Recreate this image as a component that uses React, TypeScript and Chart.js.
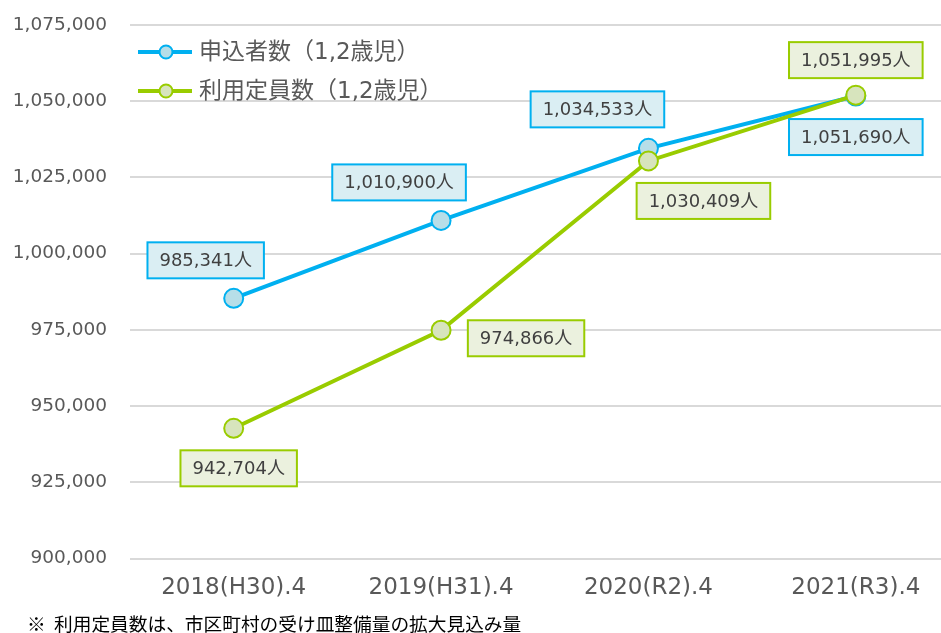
import React, { useEffect, useRef } from "react";
import { Chart, registerables } from "chart.js";

Chart.register(...registerables);

const categories = ["2018(H30).4", "2019(H31).4", "2020(R2).4", "2021(R3).4"];
const applicants = [985341, 1010900, 1034533, 1051690];
const capacity = [942704, 974866, 1030409, 1051995];
const seriesNames = ["申込者数（1,2歳児）", "利用定員数（1,2歳児）"];
const yTicks = { min: 900000, max: 1075000, step: 25000 };
const footnote = "※  利用定員数は、市区町村の受け皿整備量の拡大見込み量";

// label box placement relative to each point (dx, dy of box center)
const applicantLabelOffsets = [[-28, -38], [-42, -38], [-51, -39], [0, 41]];
const capacityLabelOffsets = [[5, 40], [85, 8], [55, 40], [0, -35]];

const BLUE = "#00B0F0";
const BLUE_FILL = "#B7DEE8";
const BLUE_BOX = "#DAEEF3";
const GREEN = "#99CC00";
const GREEN_FILL = "#D7E4BD";
const GREEN_BOX = "#EBF1DE";
const FONT = "'DejaVu Sans', 'Noto Sans CJK JP', sans-serif";

const fmt = (v: number) => v.toLocaleString("en-US");

const labelPlugin = {
  id: "boxLabels",
  afterDatasetsDraw(chart: any) {
    const ctx = chart.ctx;
    const specs = [
      { ds: 0, offs: applicantLabelOffsets, stroke: BLUE, fill: BLUE_BOX },
      { ds: 1, offs: capacityLabelOffsets, stroke: GREEN, fill: GREEN_BOX },
    ];
    ctx.save();
    ctx.font = `18px ${FONT}`;
    ctx.textAlign = "center";
    ctx.textBaseline = "middle";
    for (const s of specs) {
      const meta = chart.getDatasetMeta(s.ds);
      const data = chart.data.datasets[s.ds].data as number[];
      meta.data.forEach((pt: any, i: number) => {
        const text = fmt(data[i]) + "人";
        const w = ctx.measureText(text).width + 24;
        const h = 36;
        const cx = pt.x + s.offs[i][0];
        const cy = pt.y + s.offs[i][1];
        ctx.fillStyle = s.fill;
        ctx.fillRect(cx - w / 2, cy - h / 2, w, h);
        ctx.lineWidth = 2;
        ctx.strokeStyle = s.stroke;
        ctx.strokeRect(cx - w / 2, cy - h / 2, w, h);
        ctx.fillStyle = "#404040";
        ctx.fillText(text, cx, cy + 1);
      });
    }
    // legend
    const items = [
      { name: seriesNames[0], color: BLUE, fill: BLUE_FILL, y: 52 },
      { name: seriesNames[1], color: GREEN, fill: GREEN_FILL, y: 91 },
    ];
    for (const it of items) {
      ctx.strokeStyle = it.color;
      ctx.lineWidth = 4;
      ctx.beginPath();
      ctx.moveTo(138, it.y);
      ctx.lineTo(192, it.y);
      ctx.stroke();
      ctx.beginPath();
      ctx.arc(166, it.y, 6.5, 0, Math.PI * 2);
      ctx.fillStyle = it.fill;
      ctx.fill();
      ctx.lineWidth = 2;
      ctx.stroke();
      ctx.font = `23px ${FONT}`;
      ctx.textAlign = "left";
      ctx.fillStyle = "#595959";
      ctx.fillText(it.name, 199, it.y + 1);
    }
    ctx.restore();
  },
};

export default function App() {
  const ref = useRef<HTMLCanvasElement>(null);
  useEffect(() => {
    if (!ref.current) return;
    const chart = new Chart(ref.current, {
      type: "line",
      data: {
        labels: categories,
        datasets: [
          {
            label: seriesNames[0],
            data: applicants,
            borderColor: BLUE,
            backgroundColor: BLUE_FILL,
            borderWidth: 4,
            pointRadius: 9.5,
            pointBorderWidth: 2,
            pointBackgroundColor: BLUE_FILL,
            pointBorderColor: BLUE,
            order: 2,
          },
          {
            label: seriesNames[1],
            data: capacity,
            borderColor: GREEN,
            backgroundColor: GREEN_FILL,
            borderWidth: 4,
            pointRadius: 9.5,
            pointBorderWidth: 2,
            pointBackgroundColor: GREEN_FILL,
            pointBorderColor: GREEN,
            order: 1,
          },
        ],
      },
      options: {
        animation: false,
        responsive: false,
        maintainAspectRatio: false,
        layout: { padding: { left: 0, right: 1, top: 25, bottom: 30.5 } },
        plugins: {
          legend: { display: false },
          tooltip: { enabled: false },
        },
        scales: {
          x: {
            offset: true,
            grid: { display: false, drawTicks: false },
            border: { display: false },
            ticks: {
              padding: 16,
              color: "#595959",
              font: { family: FONT, size: 23 },
              maxRotation: 0,
            },
            afterFit(scale: any) {
              scale.height = 44;
            },
          },
          y: {
            min: yTicks.min,
            max: yTicks.max,
            grid: { color: "#d9d9d9", lineWidth: 2, drawTicks: false },
            border: { display: false },
            ticks: {
              stepSize: yTicks.step,
              padding: 23,
              color: "#595959",
              font: { family: FONT, size: 18.5 },
              callback: (v: any) => fmt(Number(v)),
            },
            afterFit(scale: any) {
              scale.width = 130;
              scale.paddingTop = 0;
              scale.paddingBottom = 0;
            },
          },
        },
      },
      plugins: [labelPlugin],
    });
    return () => chart.destroy();
  }, []);
  return (
    <div
      style={{
        position: "fixed",
        left: 0,
        top: 0,
        width: 941,
        height: 633,
        overflow: "hidden",
        background: "#fff",
      }}
    >
      <canvas ref={ref} width={971} height={633} style={{ position: "absolute", left: 0, top: 0 }} />
      <div
        style={{
          position: "absolute",
          left: 27,
          top: 613,
          fontFamily: "'Noto Sans CJK JP', sans-serif",
          fontSize: 18.7,
          lineHeight: "19px",
          color: "#000",
          whiteSpace: "pre",
        }}
      >
        {footnote}
      </div>
    </div>
  );
}
